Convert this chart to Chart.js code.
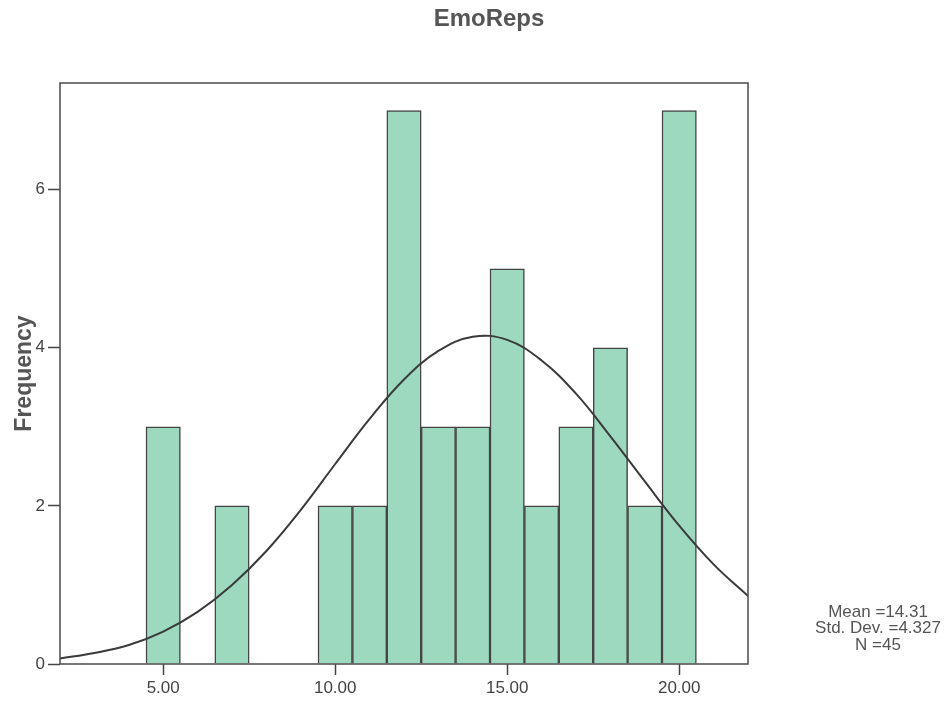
<!DOCTYPE html>
<html>
<head>
<meta charset="utf-8">
<script src="https://cdn.jsdelivr.net/npm/chart.js@4"></script>
<style>
  html, body { margin: 0; padding: 0; background: #fff; }
  #wrap { width: 949px; height: 705px; }
</style>
</head>
<body>
<div id="wrap"><canvas id="histChart" width="949" height="705"></canvas></div>
<script>
// histogram bins (value -> count)
const binValues = [5, 7, 10, 11, 12, 13, 14, 15, 16, 17, 18, 19, 20];
const binCounts = [3, 2, 2, 2, 7, 3, 3, 5, 2, 3, 4, 2, 7];

// normal curve
const curveX = [2, 3, 4, 5, 6, 7, 8, 9, 10, 11, 12, 13, 14, 15, 16, 17, 18, 19, 20, 21, 22];
const curveY = [0.07, 0.14, 0.24, 0.41, 0.66, 1.0, 1.43, 1.95, 2.53, 3.1, 3.6, 3.96, 4.14, 4.1, 3.84, 3.42, 2.88, 2.31, 1.75, 1.26, 0.86];

const xTicks = [5, 10, 15, 20];
const yTicks = [0, 2, 4, 6];

const chartTitle = "EmoReps";
const statLines = ["Mean =14.31", "Std. Dev. =4.327", "N =45"];

const fontFamily = "'Liberation Sans', Arial, sans-serif";

const extras = {
    id: "extras",
    afterDraw(chart) {
        const ctx = chart.ctx;
        const a = chart.chartArea;
        ctx.save();
        // frame around the plot
        ctx.strokeStyle = "#4a4a4a";
        ctx.lineWidth = 1.5;
        ctx.strokeRect(a.left, a.top, a.right - a.left, a.bottom - a.top);
        // title
        ctx.fillStyle = "#555";
        ctx.font = "bold 24px " + fontFamily;
        ctx.textAlign = "center";
        ctx.textBaseline = "middle";
        ctx.fillText(chartTitle, 489, 19);
        // stats box
        ctx.font = "17px " + fontFamily;
        statLines.forEach((s, i) => ctx.fillText(s, 878, 612 + i * 16.5));
        ctx.restore();
    }
};

new Chart(document.getElementById("histChart"), {
    type: "bar",
    data: {
        datasets: [
            {
                type: "line",
                data: curveX.map((x, i) => ({ x: x, y: curveY[i] })),
                borderColor: "#3a3a3a",
                borderWidth: 2,
                pointRadius: 0,
                tension: 0.4,
                fill: false,
                order: 0
            },
            {
                data: binValues.map((v, i) => ({ x: v, y: binCounts[i] })),
                backgroundColor: "#9dd9bf",
                borderColor: "#444",
                borderWidth: 1.5,
                barPercentage: 1,
                categoryPercentage: 1,
                order: 1
            }
        ]
    },
    options: {
        responsive: false,
        animation: false,
        layout: { padding: { top: 83, right: 201, bottom: 0, left: 0 } },
        plugins: {
            legend: { display: false },
            tooltip: { enabled: false }
        },
        scales: {
            x: {
                type: "linear",
                min: 2,
                max: 22,
                offset: false,
                afterBuildTicks: s => { s.ticks = xTicks.map(v => ({ value: v })); },
                afterFit: s => { s.height = 41; },
                grid: { offset: false, drawOnChartArea: false, tickLength: 11, color: "#444", tickWidth: 1.5 },
                border: { display: false },
                ticks: {
                    color: "#444",
                    padding: 3,
                    maxRotation: 0,
                    font: { family: fontFamily, size: 17 },
                    callback: v => v.toFixed(2)
                }
            },
            y: {
                min: 0,
                max: 7.35,
                afterBuildTicks: s => { s.ticks = yTicks.map(v => ({ value: v })); },
                afterFit: s => { s.width = 60; },
                grid: { drawOnChartArea: false, tickLength: 12, color: "#444", tickWidth: 1.5 },
                border: { display: false },
                title: {
                    display: true,
                    text: "Frequency",
                    color: "#555",
                    padding: { top: 11, bottom: 0 },
                    font: { family: fontFamily, size: 23, weight: "bold" }
                },
                ticks: {
                    color: "#444",
                    padding: 3,
                    font: { family: fontFamily, size: 17 }
                }
            }
        }
    },
    plugins: [extras]
});
</script>
</body>
</html>
